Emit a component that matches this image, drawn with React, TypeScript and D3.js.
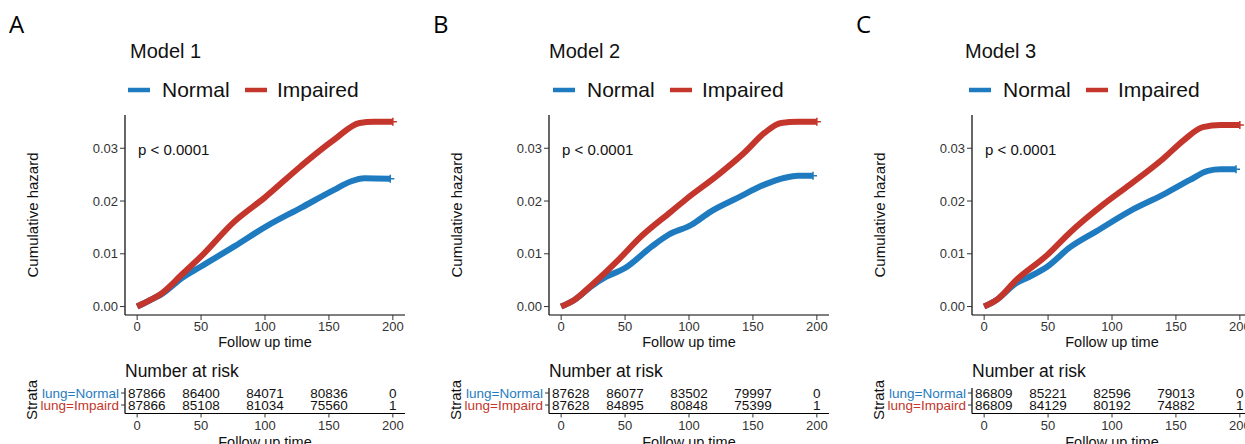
import React from "react";
import * as d3 from "d3";

// Cumulative hazard: [time, hazard]
const model1Normal: [number, number][] = [
  [0, 0], [10, 0.0012], [20, 0.0025], [35, 0.0054], [50, 0.0076], [76, 0.0114],
  [101, 0.0152], [128, 0.0187], [154, 0.0221], [167, 0.0237], [178, 0.0243], [198, 0.0242],
];
const model1Impaired: [number, number][] = [
  [0, 0], [10, 0.0012], [18, 0.0023], [36, 0.0063], [50, 0.0095], [76, 0.0161],
  [100, 0.0207], [128, 0.0266], [154, 0.0316], [174, 0.0348], [185, 0.035], [200, 0.035],
];
const model2Normal: [number, number][] = [
  [0, 0], [10, 0.0012], [24, 0.0039], [35, 0.0056], [50, 0.0073], [71, 0.0114],
  [84, 0.0136], [102, 0.0155], [117, 0.018], [138, 0.0206], [159, 0.0231],
  [175, 0.0244], [185, 0.0248], [197, 0.0248],
];
const model2Impaired: [number, number][] = [
  [0, 0], [10, 0.0012], [24, 0.0041], [45, 0.0089], [60, 0.0127], [86, 0.018],
  [97, 0.0202], [123, 0.025], [143, 0.0291], [159, 0.0329], [172, 0.0348],
  [185, 0.035], [200, 0.035],
];
const model3Normal: [number, number][] = [
  [0, 0], [10, 0.0013], [25, 0.0044], [35, 0.0056], [49, 0.0075], [67, 0.0112],
  [88, 0.0143], [114, 0.0181], [140, 0.0212], [161, 0.024], [175, 0.0257],
  [185, 0.026], [197, 0.026],
];
const model3Impaired: [number, number][] = [
  [0, 0], [10, 0.0013], [25, 0.005], [49, 0.0097], [67, 0.014], [93, 0.0193],
  [114, 0.0231], [140, 0.028], [156, 0.0315], [171, 0.034], [185, 0.0344], [200, 0.0344],
];

// Number at risk tables
const riskTimes = [0, 50, 100, 150, 200];
const risk1Normal = ["87866", "86400", "84071", "80836", "0"];
const risk1Impaired = ["87866", "85108", "81034", "75560", "1"];
const risk2Normal = ["87628", "86077", "83502", "79997", "0"];
const risk2Impaired = ["87628", "84895", "80848", "75399", "1"];
const risk3Normal = ["86809", "85221", "82596", "79013", "0"];
const risk3Impaired = ["86809", "84129", "80192", "74882", "1"];

const letters = ["A", "B", "C"];
const titles = ["Model 1", "Model 2", "Model 3"];
const strata = ["lung=Normal", "lung=Impaird"];
const xTicks = [0, 50, 100, 150, 200];
const yTicks = [0, 0.01, 0.02, 0.03];

const BLUE = "#1F7BC0";
const RED = "#C4362B";
const FONT = "'Liberation Sans', Arial, sans-serif";

const panels = [
  { ox: 0, titleX: 130, legendX: 128, normal: model1Normal, impaired: model1Impaired, rn: risk1Normal, ri: risk1Impaired },
  { ox: 424, titleX: 549, legendX: 553, normal: model2Normal, impaired: model2Impaired, rn: risk2Normal, ri: risk2Impaired },
  { ox: 847, titleX: 965, legendX: 969, normal: model3Normal, impaired: model3Impaired, rn: risk3Normal, ri: risk3Impaired },
];

const Panel = ({ p, i }: { p: (typeof panels)[number]; i: number }) => {
  const x = d3.scaleLinear().domain([-9.5, 209.5]).range([p.ox + 125, p.ox + 405]);
  const y = d3.scaleLinear().domain([-0.0016, 0.0363]).range([315, 115]);
  const line = d3
    .line<[number, number]>()
    .curve(d3.curveMonotoneX)
    .x((d) => x(d[0]))
    .y((d) => y(d[1]));
  const fmt = d3.format(".2f");
  const [x0, x1] = x.range();
  const rowY = [393, 405];
  const tableBottom = 413.5;

  const curve = (data: [number, number][], color: string) => {
    const last = data[data.length - 1];
    const cx = x(last[0]);
    const cy = y(last[1]);
    return (
      <g>
        <path d={line(data) ?? ""} fill="none" stroke={color} strokeWidth={6} strokeLinejoin="round" />
        <path d={`M${cx - 4},${cy}H${cx + 4}M${cx},${cy - 4}V${cy + 4}`} stroke={color} strokeWidth={1.5} />
      </g>
    );
  };

  const riskRow = (vals: string[], yy: number) =>
    vals.map((v, k) =>
      k === 0 ? (
        <text key={k} x={x0 + 3} y={yy + 5} textAnchor="start">{v}</text>
      ) : (
        <text key={k} x={x(riskTimes[k])} y={yy + 5} textAnchor="middle">{v}</text>
      )
    );

  return (
    <g fontFamily={FONT}>
      <text x={p.ox + 9} y={33} fontSize={24} fontFamily="'Open Sans', sans-serif">{letters[i]}</text>
      <text x={p.titleX} y={58} fontSize={20} fill="#111">{titles[i]}</text>
      {/* legend */}
      <line x1={p.legendX} x2={p.legendX + 22} y1={90} y2={90} stroke={BLUE} strokeWidth={4.5} />
      <text x={p.legendX + 34} y={97} fontSize={21} fill="#111">Normal</text>
      <line x1={p.legendX + 117} x2={p.legendX + 139} y1={90} y2={90} stroke={RED} strokeWidth={4.5} />
      <text x={p.legendX + 149} y={97} fontSize={21} fill="#111">Impaired</text>

      {/* axes */}
      <line x1={x0} x2={x0} y1={115} y2={315} stroke="#000" strokeWidth={1.2} />
      <line x1={x0} x2={x1} y1={315} y2={315} stroke="#000" strokeWidth={1.2} />
      {yTicks.map((t) => (
        <g key={t}>
          <line x1={x0 - 5} x2={x0} y1={y(t)} y2={y(t)} stroke="#333" />
          <text x={x0 - 7} y={y(t) + 4.5} fontSize={13} textAnchor="end" fill="#333">{fmt(t)}</text>
        </g>
      ))}
      {xTicks.map((t) => (
        <g key={t}>
          <line x1={x(t)} x2={x(t)} y1={315} y2={320} stroke="#333" />
          <text x={x(t)} y={331} fontSize={13} textAnchor="middle" fill="#333">{t}</text>
        </g>
      ))}
      <text x={(x0 + x1) / 2} y={347} fontSize={14.5} textAnchor="middle" fill="#111">Follow up time</text>
      <text transform={`translate(${p.ox + 38},215) rotate(-90)`} fontSize={15} textAnchor="middle" fill="#111">Cumulative hazard</text>
      <text x={p.ox + 138} y={155} fontSize={15} fill="#111">p &lt; 0.0001</text>

      {curve(p.normal, BLUE)}
      {curve(p.impaired, RED)}

      {/* risk table */}
      <text x={x0} y={377} fontSize={17.5} fill="#111">Number at risk</text>
      <line x1={x0} x2={x0} y1={388} y2={tableBottom} stroke="#000" strokeWidth={1.2} />
      <line x1={x0} x2={x1} y1={tableBottom} y2={tableBottom} stroke="#000" strokeWidth={1.2} />
      {rowY.map((yy, k) => (
        <g key={k}>
          <line x1={x0 - 4} x2={x0} y1={yy} y2={yy} stroke="#333" />
          <text x={x0 - 6} y={yy + 5} fontSize={13.5} textAnchor="end" fill={k === 0 ? BLUE : RED}>{strata[k]}</text>
        </g>
      ))}
      <g fontSize={13.5} fill="#111">
        {riskRow(p.rn, rowY[0])}
        {riskRow(p.ri, rowY[1])}
      </g>
      {xTicks.map((t) => (
        <g key={t}>
          <line x1={x(t)} x2={x(t)} y1={tableBottom} y2={tableBottom + 4} stroke="#333" />
          <text x={x(t)} y={430} fontSize={13} textAnchor="middle" fill="#333">{t}</text>
        </g>
      ))}
      <text x={(x0 + x1) / 2} y={447} fontSize={14.5} textAnchor="middle" fill="#111">Follow up time</text>
      <text transform={`translate(${p.ox + 37},400) rotate(-90)`} fontSize={15} textAnchor="middle" fill="#111">Strata</text>
    </g>
  );
};

const App = () => (
  <svg width={1245} height={444} style={{ position: "absolute", left: 0, top: 0, background: "#fff" }}>
    <rect width={1245} height={444} fill="#fff" />
    {panels.map((p, i) => (
      <Panel key={i} p={p} i={i} />
    ))}
  </svg>
);

export default App;
